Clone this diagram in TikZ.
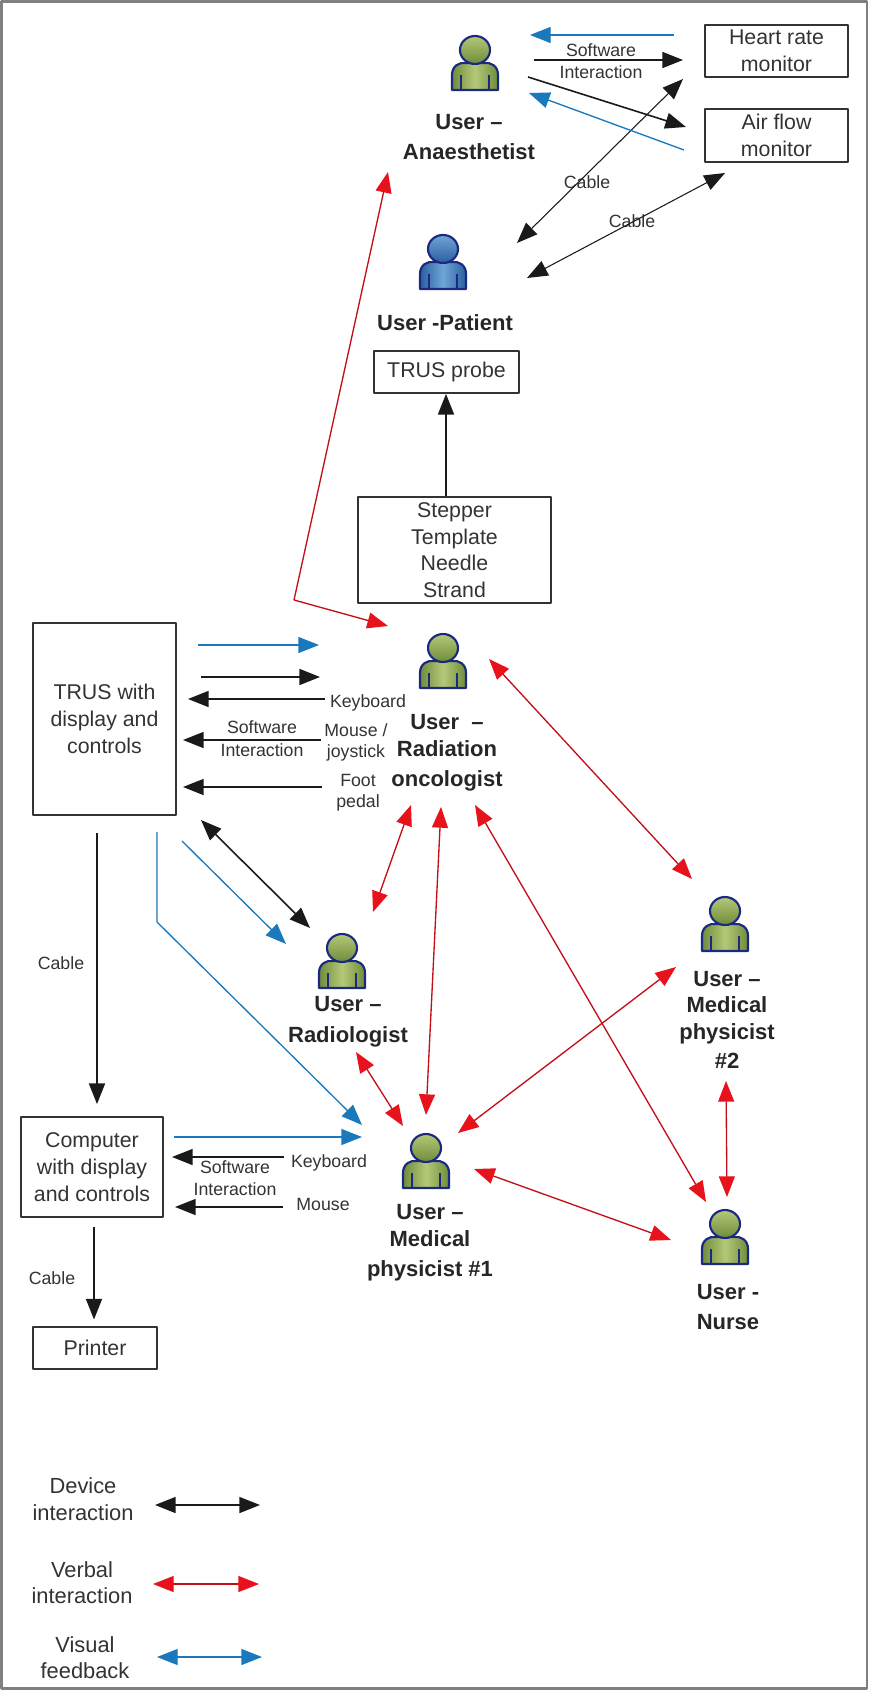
\documentclass[tikz,border=0pt]{standalone}
\usepackage{fontspec}
\setmainfont{Liberation Sans}
\usetikzlibrary{arrows.meta}
\definecolor{txtc}{HTML}{333333}
\definecolor{devc}{HTML}{1A1A1A}
\definecolor{verc}{HTML}{E8121C}
\definecolor{visc}{HTML}{1A78BC}
\definecolor{pline}{HTML}{1B2A80}
\definecolor{gmid}{HTML}{B4C878}
\definecolor{gout}{HTML}{6F8C3A}
\definecolor{bmid}{HTML}{6FA5D6}
\definecolor{bout}{HTML}{2A5FA0}
\tikzset{
	person/.pic={
		\draw[pline,line width=1.6pt,left color=#1out,right color=#1out,middle color=#1mid,line join=round]
			(-23,27)--(-23,12) .. controls (-23,3) and (-16,-1) .. (-9,0)--(9,0) .. controls (16,-1) and (23,3) .. (23,12)--(23,27)--cycle;
		\draw[pline,line width=1pt] (-14,12)--(-14,27) (14,12)--(14,27);
		\draw[pline,line width=1.6pt,top color=#1mid,bottom color=#1out] (0,-13) ellipse [x radius=15,y radius=14];
	},
	boxn/.style={draw=txtc,line width=1.3pt,align=center,text=txtc,font=\fontsize{16}{20}\selectfont,inner sep=0pt},
	usern/.style={align=center,text=black!85,font=\fontsize{16.5}{23}\selectfont\bfseries},
	smalln/.style={align=center,text=txtc,font=\fontsize{13.3}{16}\selectfont},
	legn/.style={align=center,text=txtc,font=\fontsize{16.4}{20}\selectfont},
	dev/.style={draw=devc,line width=1.2pt},
	ver/.style={draw=verc!85!black,line width=1pt,>={Stealth[length=15.5pt,width=12pt,inset=0pt,color=verc]}},
	vis/.style={draw=visc,line width=1pt},
}
\begin{document}
\begin{tikzpicture}[x=0.75pt,y=-0.75pt,>={Stealth[length=15.5pt,width=12pt,inset=0pt]},line join=round]
	\useasboundingbox (0,0) rectangle (869,1690);
	\draw[gray,line width=2.2pt] (1.5,1.5) rectangle (867,1688.5);
	% boxes
	\node[boxn,minimum width=143*0.75pt,minimum height=52*0.75pt] (heart) at (776.5,51) {Heart rate\\monitor};
	\node[boxn,minimum width=143*0.75pt,minimum height=53*0.75pt] (air) at (776.5,135.5) {Air flow\\monitor};
	\node[boxn,minimum width=145*0.75pt,minimum height=42*0.75pt] (probe) at (446.5,372) {TRUS probe};
	\node[boxn,minimum width=193*0.75pt,minimum height=106*0.75pt] (stepper) at (454.5,550) {Stepper\\Template\\Needle\\Strand};
	\node[boxn,minimum width=143*0.75pt,minimum height=192*0.75pt] (trus) at (104.5,719) {TRUS with\\display and\\controls};
	\node[boxn,minimum width=142*0.75pt,minimum height=100*0.75pt] (comp) at (92,1167) {Computer\\with display\\and controls};
	\node[boxn,minimum width=124*0.75pt,minimum height=42*0.75pt] (printer) at (95,1348) {Printer};
	% users
	\pic at (475,63) {person=g};
	\pic at (443,262) {person=b};
	\pic at (443,661) {person=g};
	\pic at (342,961) {person=g};
	\pic at (426,1161) {person=g};
	\pic at (725,924) {person=g};
	\pic at (725,1237) {person=g};
	\node[usern] (anaes) at (469,137) {User --\\Anaesthetist};
	\node[usern] (patient) at (445,323) {User -Patient};
	\node[usern] (radonc) at (447,753) {User~~--\\[-3pt]Radiation\\oncologist};
	\node[usern] (radio) at (348,1022) {User --\\Radiologist};
	\node[usern] (mp1) at (430,1243) {User --\\[-3pt]Medical\\physicist \#1};
	\node[usern] (mp2) at (727,1020) {User --\\[-3pt]Medical\\[-3pt]physicist\\[-1pt]\#2};
	\node[usern] (nurse) at (728,1307) {User -\\Nurse};
	% labels
	\node[smalln] (sw1) at (601,61.5) {Software\\[0.5pt]Interaction};
	\node[smalln] (cab1) at (587,182) {Cable};
	\node[smalln] (cab2) at (632,221) {Cable};
	\node[smalln] (sw2) at (262,738.5) {Software\\[1pt]Interaction};
	\node[smalln] (kb1) at (368,703) {Keyboard};
	\node[smalln] (mj) at (356,742.5) {Mouse /\\joystick};
	\node[smalln] (foot) at (358,792.5) {Foot\\pedal};
	\node[smalln] (cab3) at (61,963) {Cable};
	\node[smalln] (sw3) at (235,1178) {Software\\[1pt]Interaction};
	\node[smalln] (kb2) at (329,1163) {Keyboard};
	\node[smalln] (ms) at (323,1204) {Mouse};
	\node[smalln] (cab4) at (52,1278) {Cable};
	\node[legn] (legdev) at (83,1499) {Device\\interaction};
	\node[legn] (legver) at (82,1582.5) {Verbal\\interaction};
	\node[legn] (legvis) at (85,1657.5) {Visual\\feedback};
	% free ends
	\foreach \n/\x/\y in {
		a1/674/35, a2/530/35, a3/534/60, a4/683/60, a5/528/77, a6/686/127, a7/684/150, a8/529/93,
		p1/683/79, p2/517/243, p3/725/173, p4/527/278,
		r1/294/600, r2/388/172, r3/388/626,
		t1/198/645, t2/319/645, t3/201/677, t4/320/677, t5/325/699, t6/188/699, t7/321/740, t8/183/740, t9/322/787, t10/183/787,
		d1/201/820, d2/310/928, d3/182/841, d4/286/944, d5/157/832, d6/157/922, d7/362/1125,
		v1/411/805, v2/373/912, v3/441/807, v4/426/1115, v5/475/805, v6/706/1202, v7/356/1052, v8/403/1126,
		v9/458/1133, v10/676/967, v11/489/659, v12/692/879, v13/726/1081, v14/727/1197, v15/474/1169, v16/671/1240,
		c1/174/1137, c2/362/1137, c3/284/1157, c4/172/1157, c5/283/1207, c6/175/1207,
		l1/155/1505, l2/260/1505, l3/153/1584, l4/259/1584, l5/157/1657, l6/262/1657}
		\coordinate (\n) at (\x,\y);
	% device
	\draw[dev,->] (a3)--(a4);
	\draw[dev,->] (a5)--(a6);
	\draw[dev,<->,line width=0.8pt] (p1)--(p2);
	\draw[dev,<->,line width=0.8pt] (p3)--(p4);
	\draw[dev,->] (446,0 |- stepper.north)--(446,0 |- probe.south);
	\draw[dev,->] (t3)--(t4);
	\draw[dev,->] (t5)--(t6);
	\draw[dev,->] (t7)--(t8);
	\draw[dev,->] (t9)--(t10);
	\draw[dev,<->] (d1)--(d2);
	\draw[dev,->,shorten <=13pt,shorten >=9pt] (97,0 |- trus.south)--(97,0 |- comp.north);
	\draw[dev,->,line width=1.5pt,shorten <=7pt,shorten >=5pt] (94,0 |- comp.south)--(94,0 |- printer.north);
	\draw[dev,->] (c3)--(c4);
	\draw[dev,->] (c5)--(c6);
	\draw[dev,<->] (l1)--(l2);
	% verbal
	\draw[ver,->] (r1)--(r2);
	\draw[ver,->] (r1)--(r3);
	\draw[ver,<->] (v1)--(v2);
	\draw[ver,<->] (v3)--(v4);
	\draw[ver,<->] (v5)--(v6);
	\draw[ver,<->] (v7)--(v8);
	\draw[ver,<->] (v9)--(v10);
	\draw[ver,<->] (v11)--(v12);
	\draw[ver,<->] (v13)--(v14);
	\draw[ver,<->] (v15)--(v16);
	\draw[ver,<->] (l3)--(l4);
	% visual
	\draw[vis,->] (a1)--(a2);
	\draw[vis,->] (a7)--(a8);
	\draw[vis,->] (t1)--(t2);
	\draw[vis,->] (d3)--(d4);
	\draw[vis,->] (d5)--(d6)--(d7);
	\draw[vis,->] (c1)--(c2);
	\draw[vis,<->] (l5)--(l6);
\end{tikzpicture}
\end{document}
